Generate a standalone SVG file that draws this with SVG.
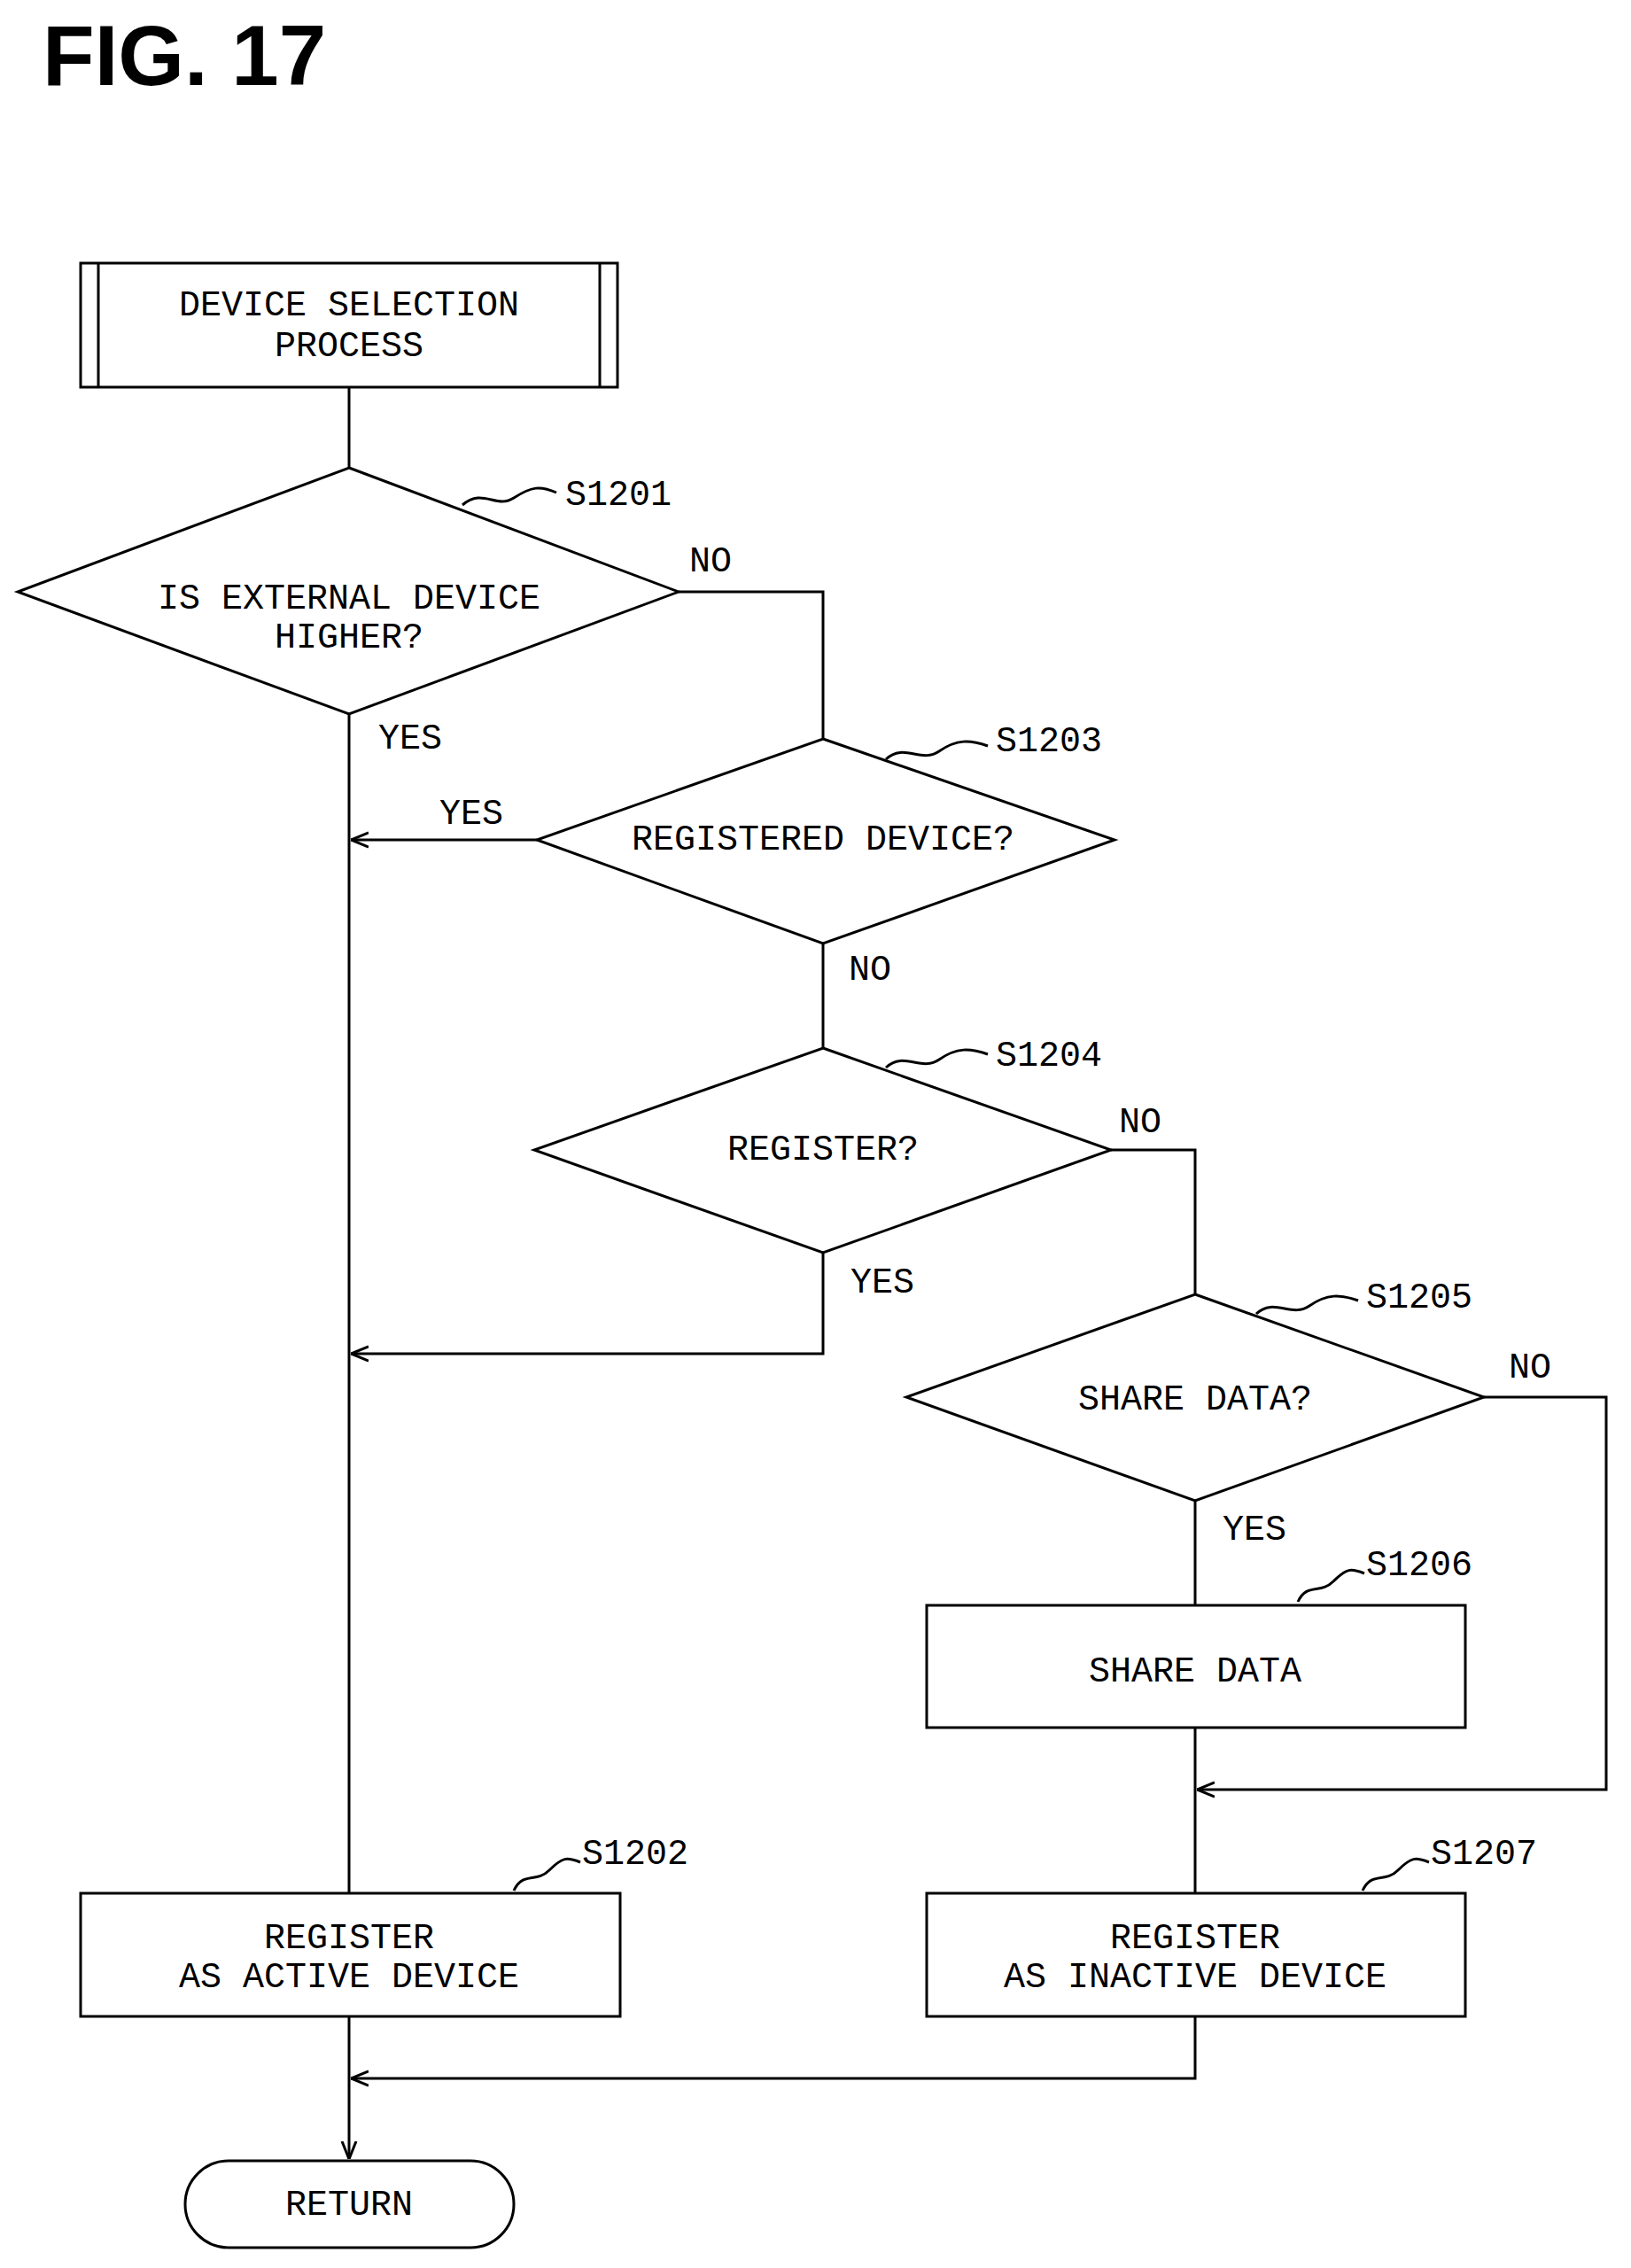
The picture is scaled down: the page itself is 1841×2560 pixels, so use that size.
<svg xmlns="http://www.w3.org/2000/svg" width="1841" height="2560" viewBox="0 0 1841 2560">
<defs>
<style>
.s{fill:none;stroke:#000;stroke-width:3}
.n{fill:#fff;stroke:#000;stroke-width:3}
text{font-family:"Liberation Mono",monospace;font-size:40px;fill:#000}
.c{text-anchor:middle;dominant-baseline:middle}
.t{font-family:"Liberation Sans",Arial,sans-serif;font-weight:bold;font-size:96px}
</style>
<marker id="a" viewBox="0 0 20 20" refX="20" refY="10" markerWidth="20" markerHeight="20" markerUnits="userSpaceOnUse" orient="auto"><path d="M0,2 L20,10 L0,18" fill="none" stroke="#000" stroke-width="3"/></marker>
</defs>
<rect width="1841" height="2560" fill="#fff"/>
<text class="t" x="48" y="96">FIG. 17</text>
<g id="connectors">
<path class="s" d="M394,437 V528"/>
<path class="s" d="M394,806 V2137"/>
<path class="s" d="M766,668 H929 V834"/>
<path class="s" d="M606,948 H396" marker-end="url(#a)"/>
<path class="s" d="M929,1065 V1183"/>
<path class="s" d="M1254,1298 H1349 V1461"/>
<path class="s" d="M929,1414 V1528 H396" marker-end="url(#a)"/>
<path class="s" d="M1675,1577 H1813 V2020 H1351" marker-end="url(#a)"/>
<path class="s" d="M1349,1694 V1812"/>
<path class="s" d="M1349,1950 V2137"/>
<path class="s" d="M1349,2276 V2346 H396" marker-end="url(#a)"/>
<path class="s" d="M394,2276 V2437" marker-end="url(#a)"/>
</g>
<g id="labels">
<text x="778" y="645">NO</text>
<text x="427" y="845">YES</text>
<text x="496" y="930">YES</text>
<text x="958" y="1106">NO</text>
<text x="1263" y="1278">NO</text>
<text x="960" y="1459">YES</text>
<text x="1703" y="1555">NO</text>
<text x="1380" y="1738">YES</text>
</g>
<g id="start">
<rect class="n" x="91" y="297" width="606" height="140"/>
<path class="s" d="M111,297 V437 M677,297 V437"/>
<text class="c" x="394" y="345">DEVICE SELECTION</text>
<text class="c" x="394" y="391">PROCESS</text>
</g>
<g id="S1201">
<path class="n" d="M394,528 L766,668 L394,806 L20,668 Z"/>
<text class="c" x="394" y="676">IS EXTERNAL DEVICE</text>
<text class="c" x="394" y="720">HIGHER?</text>
<path class="s" d="M522,570 C545,550 560,575 580,562 S610,548 628,556"/>
<text x="638" y="570">S1201</text>
</g>
<g id="S1203">
<path class="n" d="M929,834 L1258,948 L929,1065 L606,948 Z"/>
<text class="c" x="929" y="948">REGISTERED DEVICE?</text>
<path class="s" d="M1000,857 C1020,838 1040,862 1060,848 S1095,835 1115,842"/>
<text x="1124" y="848">S1203</text>
</g>
<g id="S1204">
<path class="n" d="M929,1183 L1254,1298 L929,1414 L603,1298 Z"/>
<text class="c" x="929" y="1298">REGISTER?</text>
<path class="s" d="M1000,1205 C1020,1186 1040,1210 1060,1196 S1095,1183 1115,1190"/>
<text x="1124" y="1203">S1204</text>
</g>
<g id="S1205">
<path class="n" d="M1349,1461 L1675,1577 L1349,1694 L1023,1577 Z"/>
<text class="c" x="1349" y="1580">SHARE DATA?</text>
<path class="s" d="M1418,1483 C1438,1464 1458,1488 1478,1474 S1513,1461 1533,1468"/>
<text x="1542" y="1476">S1205</text>
</g>
<g id="S1206">
<rect class="n" x="1046" y="1812" width="608" height="138"/>
<text class="c" x="1349" y="1887">SHARE DATA</text>
<path class="s" d="M1465,1808 C1475,1786 1490,1800 1505,1785 S1525,1770 1540,1776"/>
<text x="1542" y="1778">S1206</text>
</g>
<g id="S1207">
<rect class="n" x="1046" y="2137" width="608" height="139"/>
<text class="c" x="1349" y="2188">REGISTER</text>
<text class="c" x="1349" y="2232">AS INACTIVE DEVICE</text>
<path class="s" d="M1538,2134 C1548,2112 1563,2126 1578,2111 S1598,2096 1613,2102"/>
<text x="1615" y="2104">S1207</text>
</g>
<g id="S1202">
<rect class="n" x="91" y="2137" width="609" height="139"/>
<text class="c" x="394" y="2188">REGISTER</text>
<text class="c" x="394" y="2232">AS ACTIVE DEVICE</text>
<path class="s" d="M580,2134 C590,2112 605,2126 620,2111 S640,2096 655,2102"/>
<text x="657" y="2104">S1202</text>
</g>
<g id="return">
<rect class="n" x="209" y="2439" width="371" height="98" rx="49"/>
<text class="c" x="394" y="2489">RETURN</text>
</g>
</svg>
